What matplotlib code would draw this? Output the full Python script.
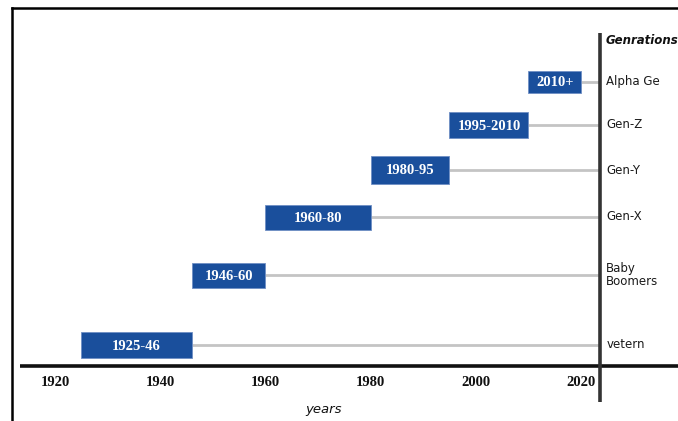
import matplotlib.pyplot as plt
from matplotlib.lines import Line2D

# generations and their birth-year spans
generations = ["Alpha Ge", "Gen-Z", "Gen-Y", "Gen-X", "Baby\nBoomers", "vetern"]
span_labels = ["2010+", "1995-2010", "1980-95", "1960-80", "1946-60", "1925-46"]
start_year = [2010, 1995, 1980, 1960, 1946, 1925]
end_year = [2020, 2010, 1995, 1980, 1960, 1946]
year_ticks = [1920, 1940, 1960, 1980, 2000, 2020]

# layout (pixel rows, top to bottom)
row_y = [82, 125, 170, 217, 275, 345]
bar_h = [22, 26, 28, 25, 25, 26]
W, H = 678, 421
px_per_year = 5.26
x_left = 1920 - 55 / px_per_year
x_right = 1920 + (W - 55) / px_per_year
gen_axis = 2023.6

blue = "#1a4f9c"
grey = "#c4c4c4"

fig = plt.figure(figsize=(W / 100, H / 100), dpi=100)
ax = fig.add_axes([0, 0, 1, 1])
ax.set_xlim(x_left, x_right)
ax.set_ylim(H, 0)
ax.axis("off")

# connectors from each bar to the generation axis
for y, e in zip(row_y, end_year):
    ax.plot([e, gen_axis], [y, y], color=grey, lw=2, zorder=1, solid_capstyle="butt")

ax.barh(row_y, [e - s for s, e in zip(start_year, end_year)], left=start_year,
        height=bar_h, color=blue, edgecolor="#6f8fc4", linewidth=0.6, zorder=2)

for y, s, e, lab in zip(row_y, start_year, end_year, span_labels):
    ax.text((s + e) / 2, y + 1, lab, color="white", ha="center", va="center",
            family="Liberation Serif", weight="bold", fontsize=10.5, zorder=3)

# generation names on the right of the axis
for y, g in zip(row_y, generations):
    ax.text(gen_axis + 1.2, y, g, ha="left", va="center",
            fontsize=8.5, color="#1a1a1a", linespacing=0.95)

# main axes lines
ax.plot([x_left + 20 / px_per_year, x_right], [366, 366], color="#111111", lw=2.6,
        solid_capstyle="butt", zorder=4)
ax.plot([gen_axis, gen_axis], [33, 402], color="#333333", lw=2.6,
        solid_capstyle="butt", zorder=4)

for t in year_ticks:
    ax.text(t, 383, str(t), ha="center", va="center", family="Liberation Serif",
            weight="bold", fontsize=10.5, color="#111111")

ax.text(gen_axis + 1.0, 40, "Genrations", ha="left", va="center", fontsize=8.5,
        style="italic", weight="bold", color="#111111")
ax.text(1971, 410, "years", ha="center", va="center", fontsize=9.5,
        style="italic", color="#111111")

# outer frame
fig.add_artist(Line2D([12 / W, 12 / W], [1 - 8 / H, 0], color="black", lw=1.8))
fig.add_artist(Line2D([12 / W, 1], [1 - 8 / H, 1 - 8 / H], color="black", lw=1.8))

fig.savefig("out.png", dpi=100)
